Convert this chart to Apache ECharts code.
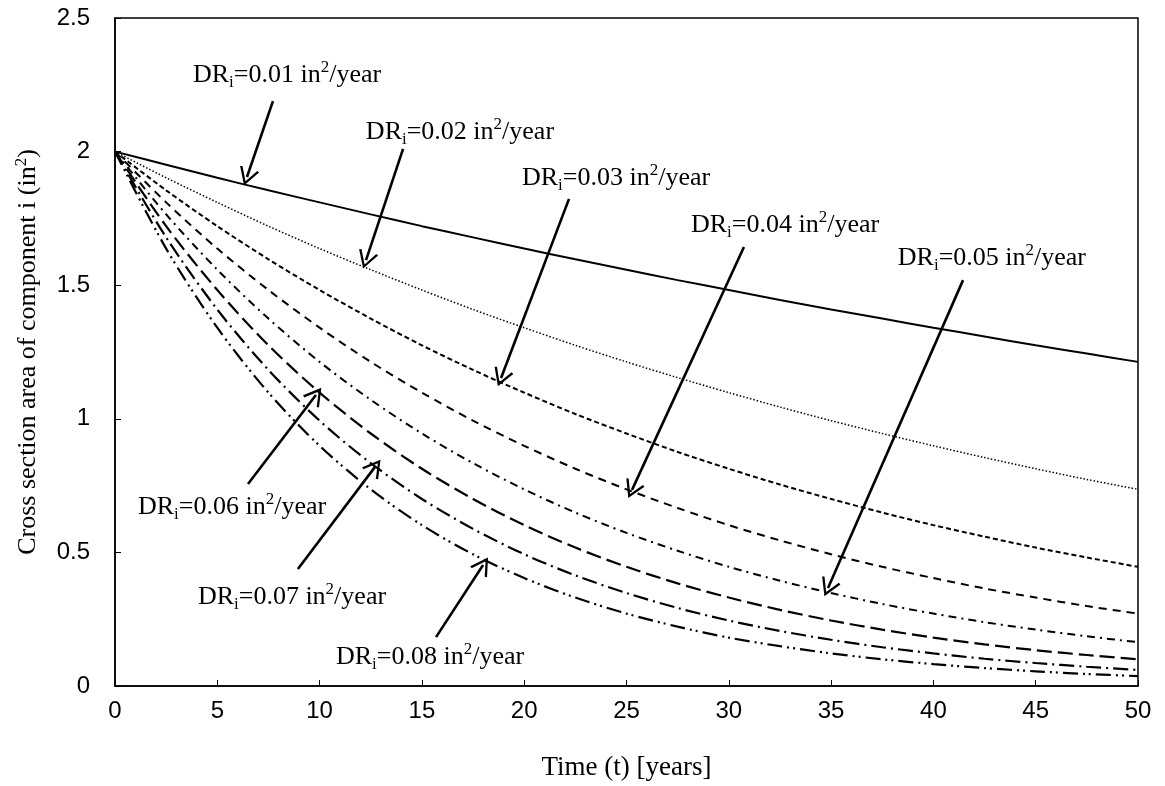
<!DOCTYPE html>
<html>
<head>
<meta charset="utf-8">
<script src="https://cdn.jsdelivr.net/npm/echarts@6/dist/echarts.min.js"></script>
<style>
  html, body { margin: 0; padding: 0; background: #fff; }
  #chart { width: 1165px; height: 786px; }
</style>
</head>
<body>
<div id="chart"></div>
<script>
// Time axis samples (years)
const years = [0, 2.5, 5, 7.5, 10, 12.5, 15, 17.5, 20, 22.5, 25, 27.5, 30, 32.5, 35, 37.5, 40, 42.5, 45, 47.5, 50];

// Cross-section area (in^2) for each deterioration rate
const dr001 = [2, 1.951, 1.902, 1.855, 1.810, 1.765, 1.721, 1.679, 1.637, 1.597, 1.558, 1.519, 1.482, 1.445, 1.409, 1.375, 1.341, 1.308, 1.275, 1.244, 1.213];
const dr002 = [2, 1.902, 1.810, 1.721, 1.637, 1.558, 1.482, 1.409, 1.341, 1.275, 1.213, 1.154, 1.098, 1.044, 0.993, 0.945, 0.899, 0.855, 0.813, 0.773, 0.736];
const dr003 = [2, 1.855, 1.721, 1.597, 1.482, 1.375, 1.275, 1.183, 1.098, 1.018, 0.945, 0.876, 0.813, 0.754, 0.700, 0.649, 0.602, 0.559, 0.518, 0.481, 0.446];
const dr004 = [2, 1.810, 1.637, 1.482, 1.341, 1.213, 1.098, 0.993, 0.899, 0.813, 0.736, 0.666, 0.602, 0.545, 0.493, 0.446, 0.404, 0.365, 0.331, 0.299, 0.271];
const dr005 = [2, 1.765, 1.558, 1.375, 1.213, 1.071, 0.945, 0.834, 0.736, 0.649, 0.573, 0.506, 0.446, 0.394, 0.348, 0.307, 0.271, 0.239, 0.211, 0.186, 0.164];
const dr006 = [2, 1.721, 1.482, 1.275, 1.098, 0.945, 0.813, 0.700, 0.602, 0.518, 0.446, 0.384, 0.331, 0.285, 0.245, 0.211, 0.181, 0.156, 0.134, 0.116, 0.100];
const dr007 = [2, 1.679, 1.409, 1.183, 0.993, 0.834, 0.700, 0.588, 0.493, 0.414, 0.348, 0.292, 0.245, 0.206, 0.173, 0.145, 0.122, 0.102, 0.086, 0.072, 0.060];
const dr008 = [2, 1.637, 1.341, 1.098, 0.899, 0.736, 0.602, 0.493, 0.404, 0.331, 0.271, 0.222, 0.181, 0.149, 0.122, 0.100, 0.082, 0.067, 0.055, 0.045, 0.037];

const rateLabels = ['0.01', '0.02', '0.03', '0.04', '0.05', '0.06', '0.07', '0.08'];
const xTicks = [0, 5, 10, 15, 20, 25, 30, 35, 40, 45, 50];
const yTicks = [0, 0.5, 1, 1.5, 2, 2.5];

// Callout placement in data units: text anchor, arrow tail, arrow head
const calloutText = [[8.41, 2.287], [16.86, 2.073], [24.49, 1.901], [32.75, 1.725], [42.86, 1.602], [5.72, 0.670], [8.65, 0.333], [15.40, 0.109]];
const arrowTail = [[7.72, 2.189], [14.08, 2.010], [22.19, 1.823], [30.74, 1.643], [41.45, 1.519], [6.50, 0.756], [8.94, 0.438], [15.69, 0.183]];
const arrowHead = [[6.45, 1.905], [12.27, 1.594], [18.87, 1.153], [25.27, 0.734], [34.85, 0.367], [9.82, 1.089], [12.71, 0.820], [17.99, 0.453]];

const seriesValues = [dr001, dr002, dr003, dr004, dr005, dr006, dr007, dr008];
const lineStyles = [
  { width: 2, type: 'solid' },
  { width: 1.5, type: [1.5, 2] },
  { width: 2, type: [5, 3] },
  { width: 2, type: [8, 6] },
  { width: 2, type: [8, 5, 2, 5] },
  { width: 2.2, type: [15, 6] },
  { width: 2.2, type: [15, 5, 2, 5] },
  { width: 2.2, type: [15, 5, 2, 4, 2, 5] }
];

const serif = '"Liberation Serif", "Times New Roman", serif';
const sans = '"Liberation Sans", Arial, sans-serif';

const richCallout = {
  a: { fontFamily: serif, fontSize: 26, color: '#000', lineHeight: 32, verticalAlign: 'middle' },
  s: { fontFamily: serif, fontSize: 17, color: '#000', lineHeight: 14, verticalAlign: 'bottom' },
  p: { fontFamily: serif, fontSize: 17, color: '#000', lineHeight: 19, verticalAlign: 'top' }
};

// Open chevron arrowhead, tip pointing up
const chevron = 'path://M0,20 L10,0 L20,20 L17.8,21.1 L10,5.2 L2.2,21.1 Z';

const series = seriesValues.map((vals, i) => ({
  name: 'DR ' + rateLabels[i],
  type: 'line',
  data: years.map((t, k) => [t, vals[k]]),
  smooth: 0.3,
  showSymbol: false,
  symbol: 'none',
  lineStyle: Object.assign({ color: '#000' }, lineStyles[i]),
  silent: true,
  animation: false,
  z: 2
}));

// Callout arrows and labels
series.push({
  type: 'line',
  data: [],
  silent: true,
  animation: false,
  markLine: {
    silent: true,
    animation: false,
    symbol: ['none', chevron],
    symbolSize: [20, 18],
    label: { show: false },
    lineStyle: { color: '#000', width: 2.6, type: 'solid' },
    emphasis: { disabled: true },
    data: arrowTail.map((p, i) => [{ coord: p }, { coord: arrowHead[i] }])
  },
  markPoint: {
    silent: true,
    animation: false,
    symbol: 'circle',
    symbolSize: 0,
    label: {
      show: true,
      position: 'inside',
      rich: richCallout
    },
    data: calloutText.map((p, i) => ({
      coord: p,
      label: { formatter: '{a|DR}{s|i}{a|=' + rateLabels[i] + ' in}{p|2}{a|/year}' }
    }))
  }
});

const chart = echarts.init(document.getElementById('chart'), null, { renderer: 'canvas' });
chart.setOption({
  animation: false,
  backgroundColor: '#fff',
  grid: {
    left: 115, right: 27, top: 18, bottom: 100,
    show: true, borderColor: '#000', borderWidth: 1.5, backgroundColor: 'transparent'
  },
  xAxis: {
    type: 'value',
    min: xTicks[0], max: xTicks[xTicks.length - 1], interval: xTicks[1] - xTicks[0],
    name: 'Time (t) [years]',
    nameLocation: 'middle',
    nameGap: 68,
    nameTextStyle: { fontFamily: serif, fontSize: 27, color: '#000' },
    axisLine: { lineStyle: { color: '#000', width: 1.5 } },
    axisTick: { inside: true, length: 6, lineStyle: { color: '#000', width: 1 } },
    axisLabel: { fontFamily: sans, fontSize: 24, color: '#000', margin: 13 },
    splitLine: { show: false }
  },
  yAxis: {
    type: 'value',
    min: yTicks[0], max: yTicks[yTicks.length - 1], interval: yTicks[1] - yTicks[0],
    name: '{a|Cross section area of component i (in}{p|2}{a|)}',
    nameLocation: 'middle',
    nameGap: 72,
    nameRotate: 90,
    nameTextStyle: {
      rich: {
        a: { fontFamily: serif, fontSize: 26, color: '#000', lineHeight: 30, verticalAlign: 'middle' },
        p: { fontFamily: serif, fontSize: 17, color: '#000', lineHeight: 21, verticalAlign: 'top' }
      }
    },
    axisLine: { lineStyle: { color: '#000', width: 1.5 } },
    axisTick: { inside: true, length: 6, lineStyle: { color: '#000', width: 1 } },
    axisLabel: { fontFamily: sans, fontSize: 24, color: '#000', margin: 25 },
    splitLine: { show: false }
  },
  series: series
});
</script>
</body>
</html>
